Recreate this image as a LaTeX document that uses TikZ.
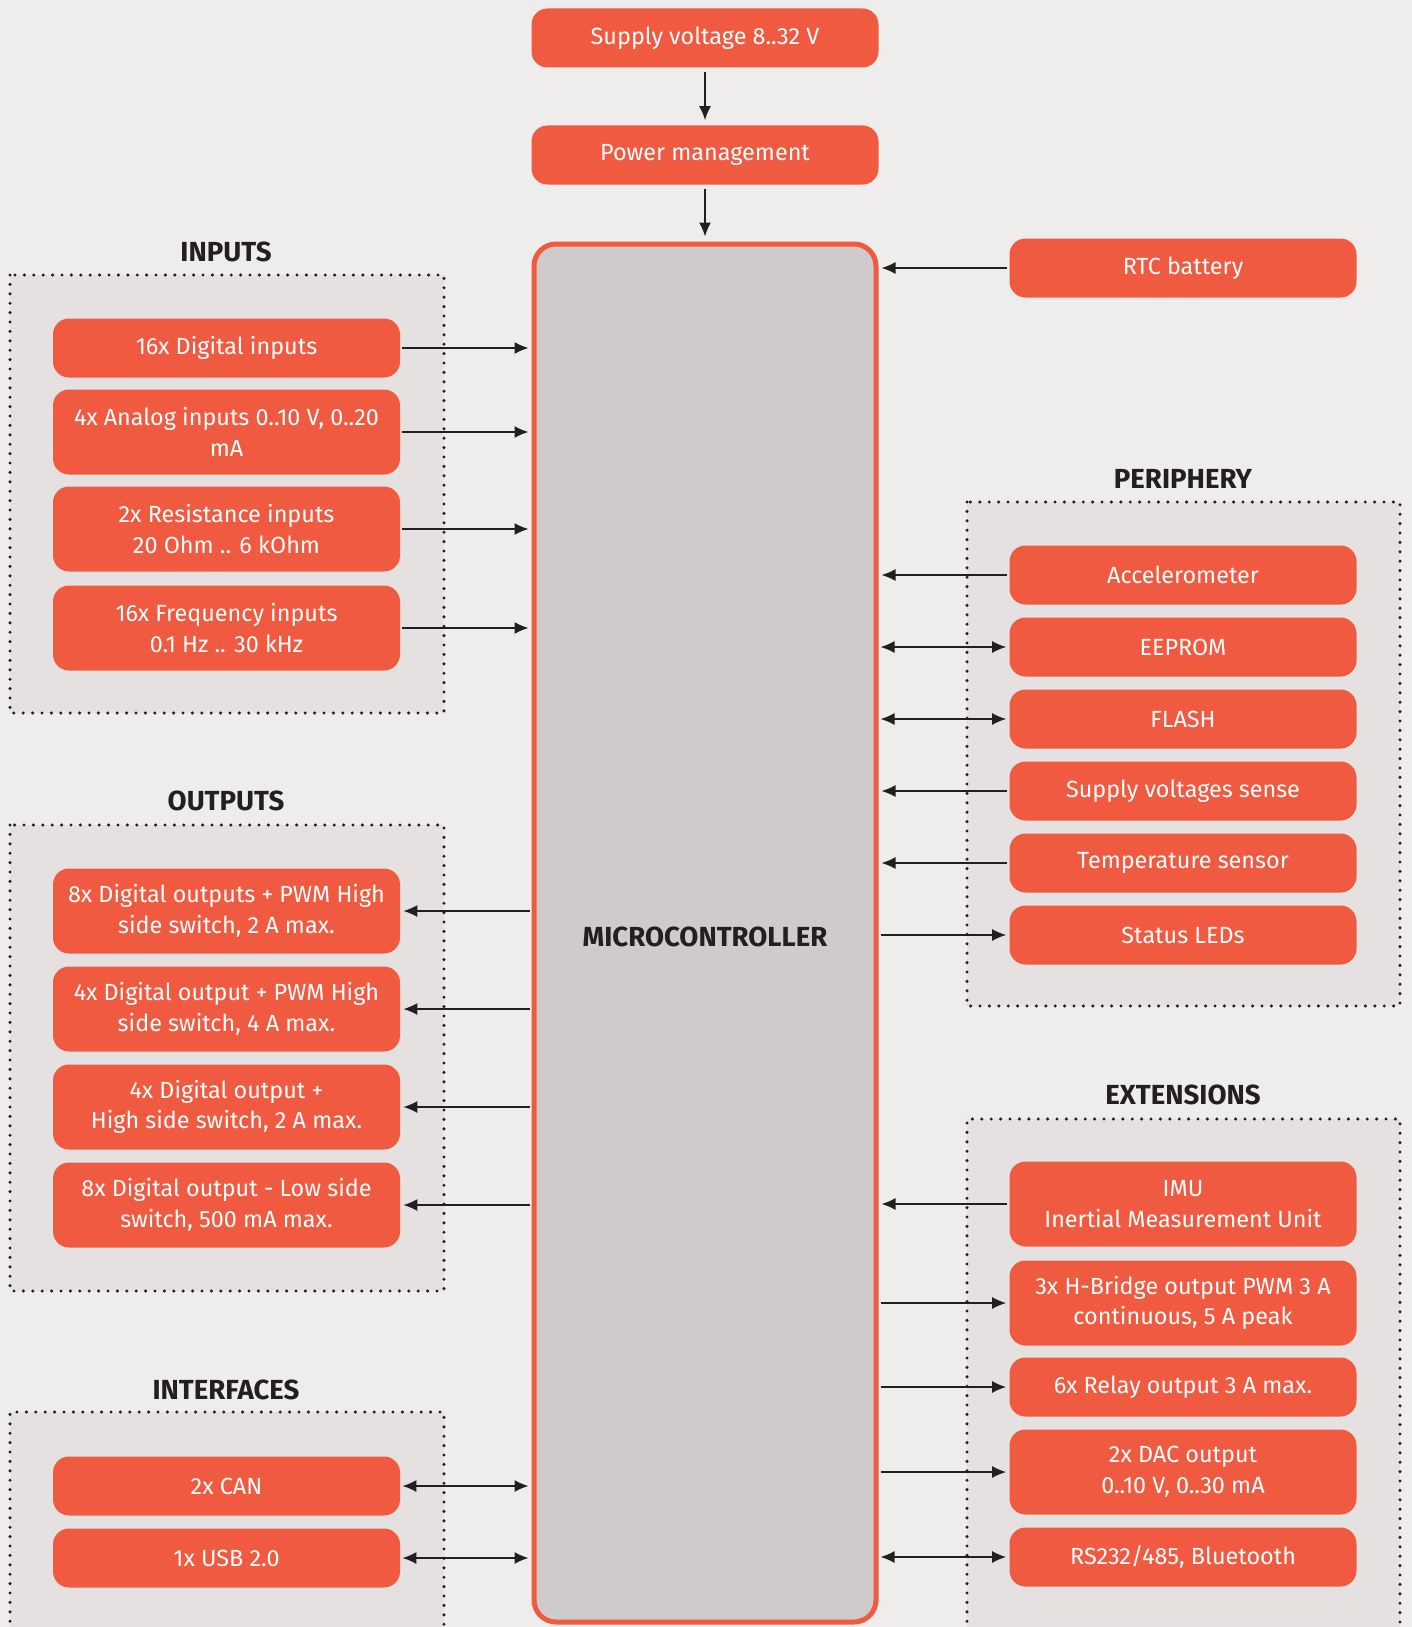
\documentclass[tikz,border=0pt]{standalone}
\usepackage{fontspec}
\setmainfont{Fira Sans}
\usepackage{tikz}
\usetikzlibrary{arrows.meta}

\definecolor{boxred}{HTML}{F05A40}
\definecolor{paper}{HTML}{EEEDEB}
\definecolor{group}{HTML}{E4E1E0}
\definecolor{chip}{HTML}{CFCBCA}
\definecolor{ink}{HTML}{231F20}

\tikzset{
    blk/.style={rectangle, rounded corners=8pt, fill=boxred, text=white,
        minimum width=173.5pt, minimum height=29.5pt, align=center,
        font=\fontsize{11.7}{15.3}\selectfont},
    tall/.style={blk, minimum height=42.5pt},
    dots/.style={ink, line width=1.7pt, line cap=round, dash pattern=on 0pt off 4.7pt},
    head/.style={text=ink, font=\bfseries\fontsize{13.8}{16}\selectfont},
    link/.style={ink, line width=0.7pt, -{Latex[length=7pt,width=6pt]},
        shorten >=1.5pt, shorten <=1pt},
    both/.style={link, {Latex[length=7pt,width=6pt]}-{Latex[length=7pt,width=6pt]}},
}

\begin{document}
\begin{tikzpicture}[x=0.5pt, y=-0.5pt]
        \fill[paper] (0,0) rectangle (1412,1627);
        \useasboundingbox (0,0) rectangle (1412,1627);

        % group frames
        \fill[group] (10,275) rectangle (444,713);
        \draw[dots] (10,275) rectangle (444,713);
        \fill[group] (10,825) rectangle (444,1291);
        \draw[dots] (10,825) rectangle (444,1291);
        \fill[group] (10,1412) rectangle (444,1640);
        \draw[dots] (10,1640) -- (10,1412) -- (444,1412) -- (444,1640);
        \fill[group] (967,502) rectangle (1400,1006);
        \draw[dots] (967,502) rectangle (1400,1006);
        \fill[group] (967,1119) rectangle (1400,1640);
        \draw[dots] (967,1640) -- (967,1119) -- (1400,1119) -- (1400,1640);

        \node[head] (hIn) at (226,252) {INPUTS};
        \node[head] (hOut) at (226,801) {OUTPUTS};
        \node[head] (hIf) at (226,1390) {INTERFACES};
        \node[head] (hPer) at (1183,479) {PERIPHERY};
        \node[head] (hExt) at (1183,1095) {EXTENSIONS};

        % power chain and controller
        \node[blk] (sup) at (705,38) {Supply voltage 8..32 V};
        \node[blk] (pwr) at (705,155) {Power management};
        \node[rectangle, rounded corners=11pt, draw=boxred, line width=2.5pt, fill=chip,
            minimum width=171pt, minimum height=689pt] (mcu) at (705,933) {};
        \node[head] (mcuT) at (705,937) {MICROCONTROLLER};

        \draw[link, shorten <=2pt, shorten >=2.5pt] (sup) -- (pwr);
        \draw[link, shorten <=2pt, shorten >=2.5pt] (pwr) -- (mcu);

        % inputs
        \node[blk] (in0) at (226.5,348) {16x Digital inputs};
        \node[tall] (in1) at (226.5,432) {4x Analog inputs 0..10 V, 0..20\\mA};
        \node[tall] (in2) at (226.5,529) {2x Resistance inputs\\20 Ohm .. 6 kOhm};
        \node[tall] (in3) at (226.5,628) {16x Frequency inputs\\0.1 Hz .. 30 kHz};

        \draw[link] (in0.east) -- (in0.east -| mcu.west);
        \draw[link] (in1.east) -- (in1.east -| mcu.west);
        \draw[link] (in2.east) -- (in2.east -| mcu.west);
        \draw[link] (in3.east) -- (in3.east -| mcu.west);

        % outputs
        \node[tall] (out0) at (226.5,911) {8x Digital outputs + PWM High\\side switch, 2 A max.};
        \node[tall] (out1) at (226.5,1009) {4x Digital output + PWM High\\side switch, 4 A max.};
        \node[tall] (out2) at (226.5,1107) {4x Digital output +\\High side switch, 2 A max.};
        \node[tall] (out3) at (226.5,1205) {8x Digital output - Low side\\switch, 500 mA max.};

        \draw[link] (out0.east -| mcu.west) -- (out0.east);
        \draw[link] (out1.east -| mcu.west) -- (out1.east);
        \draw[link] (out2.east -| mcu.west) -- (out2.east);
        \draw[link] (out3.east -| mcu.west) -- (out3.east);

        % interfaces
        \node[blk] (can) at (226.5,1486) {2x CAN};
        \node[blk] (usb) at (226.5,1558) {1x USB 2.0};

        \draw[both] (can.east) -- (can.east -| mcu.west);
        \draw[both] (usb.east) -- (usb.east -| mcu.west);

        % right side
        \node[blk] (rtc) at (1183,268) {RTC battery};
        \draw[link] (rtc.west) -- (rtc.west -| mcu.east);

        \node[blk] (acc) at (1183,575) {Accelerometer};
        \node[blk] (eep) at (1183,647) {EEPROM};
        \node[blk] (fla) at (1183,719) {FLASH};
        \node[blk] (sen) at (1183,791) {Supply voltages sense};
        \node[blk] (tmp) at (1183,863) {Temperature sensor};
        \node[blk] (led) at (1183,935) {Status LEDs};

        \draw[link] (acc.west) -- (acc.west -| mcu.east);
        \draw[both] (eep.west -| mcu.east) -- (eep.west);
        \draw[both] (fla.west -| mcu.east) -- (fla.west);
        \draw[link] (sen.west) -- (sen.west -| mcu.east);
        \draw[link] (tmp.west) -- (tmp.west -| mcu.east);
        \draw[link] (led.west -| mcu.east) -- (led.west);

        \node[tall] (imu) at (1183,1204) {IMU\\Inertial Measurement Unit};
        \node[tall] (hbr) at (1183,1303) {3x H-Bridge output PWM 3 A\\continuous, 5 A peak};
        \node[blk] (rel) at (1183,1387) {6x Relay output 3 A max.};
        \node[tall] (dac) at (1183,1472) {2x DAC output\\0..10 V, 0..30 mA};
        \node[blk] (rs) at (1183,1557) {RS232/485, Bluetooth};

        \draw[link] (imu.west) -- (imu.west -| mcu.east);
        \draw[link] (hbr.west -| mcu.east) -- (hbr.west);
        \draw[link] (rel.west -| mcu.east) -- (rel.west);
        \draw[link] (dac.west -| mcu.east) -- (dac.west);
        \draw[both] (rs.west -| mcu.east) -- (rs.west);
\end{tikzpicture}
\end{document}
